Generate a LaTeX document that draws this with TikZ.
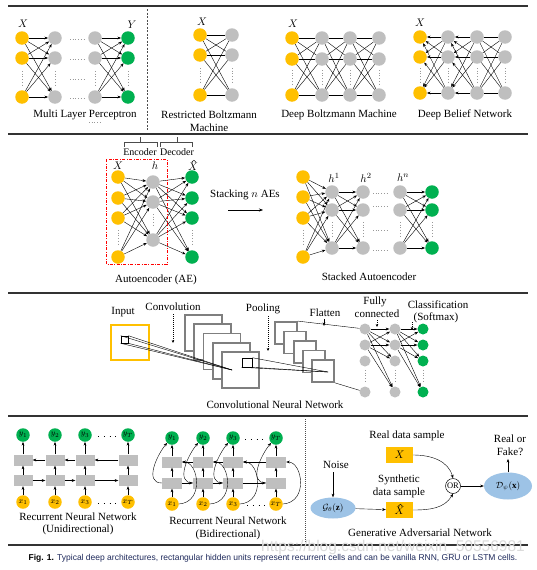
\documentclass[tikz,border=0pt]{standalone}
\usepackage{fontspec}
\setmainfont{Liberation Serif}
\newfontfamily\capfont{Liberation Sans}
\usetikzlibrary{arrows.meta,shapes.geometric}
\definecolor{yel}{HTML}{FFC000}
\definecolor{gry}{HTML}{BFBFBF}
\definecolor{grn}{HTML}{00B050}
\definecolor{blu}{HTML}{9DC3E6}
\definecolor{sqg}{HTML}{7F7F7F}
\definecolor{capblue}{HTML}{1F2A5C}
\begin{document}
\begin{tikzpicture}[x=1pt,y=-1pt,
  font=\fontsize{11}{13}\selectfont,
  nd/.style={circle,inner sep=0pt,minimum size=13.5pt},
  yn/.style={nd,fill=yel}, gn/.style={nd,fill=gry}, en/.style={nd,fill=grn},
  sn/.style={circle,inner sep=0pt,minimum size=11pt},
  arr/.style={-{Stealth[length=3.6pt,width=2.8pt]},line width=0.4pt},
  ln/.style={line width=0.4pt},
  darr/.style={-{Stealth[length=3pt,width=2.6pt]},line width=0.5pt,dash pattern=on 1pt off 1pt},
  dots/.style={gray!80,line width=0.7pt,dash pattern=on 0.7pt off 2pt},
  rule/.style={line width=1.1pt,black!80},
  lab/.style={inner sep=0.5pt},
  sm/.style={font=\fontsize{10}{12}\selectfont},
  hatmark/.style={line width=0.45pt},
  cell/.style={rectangle,fill=gry,inner sep=0pt,minimum width=19pt,minimum height=11pt},
  csq/.style={rectangle,draw=sqg,line width=1.8pt,fill=white,inner sep=0pt,minimum width=37pt,minimum height=36pt},
  psq/.style={rectangle,draw=sqg,line width=1.8pt,fill=white,inner sep=0pt,minimum width=22pt,minimum height=22pt},
  box/.style={rectangle,fill=yel,inner sep=0pt,minimum width=27pt,minimum height=16pt},
  ell/.style={ellipse,fill=blu,inner sep=0pt,font=\fontsize{9}{10}\selectfont},
  rl/.style={font=\fontsize{8.5}{9}\selectfont},
]
\useasboundingbox (0,0) rectangle (536,570);
\fill[white] (0,0) rectangle (536,570);

% ---------- rules ----------
\draw[rule] (8,6) -- (528,6);
\draw[rule] (8,134) -- (528,134);
\draw[rule] (8,293) -- (528,293);
\draw[rule] (8,416) -- (528,416);
\draw[rule] (8,545) -- (528,545);
\draw[line width=0.5pt,black!70,dash pattern=on 2pt off 1.5pt] (147,9) -- (147,130);
\draw[line width=0.5pt,black!70,dash pattern=on 1pt off 1pt] (305,419) -- (305,543);

% ---------- MLP ----------
\foreach \n/\y in {a/38,b/58,c/97}{
  \node[yn] (m0\n) at (22,\y) {};
  \node[gn] (m1\n) at (55,\y) {};
  \node[gn] (m2\n) at (95,\y) {};
  \node[en] (m3\n) at (128,\y) {};
}
\foreach \i in {a,b,c}{\foreach \j in {a,b,c}{
  \draw[arr] (m0\i) -- (m1\j); \draw[arr] (m2\i) -- (m3\j);}}
\foreach \x in {22,55,95,128}{\draw[dots] (\x,71) -- (\x,85);}
\foreach \y in {39,59,79,98}{\draw[dots] (70,\y) -- (86,\y);}
\draw[dots] (89,122) -- (101,122);
\node[lab] (mX) at (23,24) {$X$};
\node[lab] (mY) at (132,25) {$Y$};
\node (mT) at (85,115) {Multi Layer Perceptron};

% ---------- RBM ----------
\foreach \n/\y in {a/35,b/55,c/95}{
  \node[yn] (r0\n) at (200,\y) {};
  \node[gn] (r1\n) at (232,\y) {};
}
\foreach \i in {a,b,c}{\foreach \j in {a,b,c}{\draw[ln] (r0\i) -- (r1\j);}}
\foreach \x in {200,232}{\draw[dots] (\x,68) -- (\x,82);}
\node[lab] (rX) at (202,22) {$X$};
\node (rT1) at (209,115) {Restricted Boltzmann};
\node (rT2) at (209,128) {Machine};

% ---------- DBM ----------
\foreach \n/\y in {a/38,b/59,c/95}{
  \node[yn] (d0\n) at (292,\y) {};
  \node[gn] (d1\n) at (322,\y) {};
  \node[gn] (d2\n) at (350,\y) {};
  \node[gn] (d3\n) at (379,\y) {};
}
\foreach \i in {a,b,c}{\foreach \j in {a,b,c}{
  \draw[ln] (d0\i) -- (d1\j); \draw[ln] (d1\i) -- (d2\j); \draw[ln] (d2\i) -- (d3\j);}}
\foreach \x in {292,322,350,379}{\draw[dots] (\x,70) -- (\x,84);}
\node[lab] (dX) at (293,24) {$X$};
\node (dT) at (339,115) {Deep Boltzmann Machine};

% ---------- DBN ----------
\foreach \n/\y in {a/37,b/57,c/93}{
  \node[yn] (b0\n) at (420,\y) {};
  \node[gn] (b1\n) at (448,\y) {};
  \node[gn] (b2\n) at (477,\y) {};
  \node[gn] (b3\n) at (505,\y) {};
}
\foreach \i in {a,b,c}{\foreach \j in {a,b,c}{
  \draw[arr] (b1\i) -- (b0\j); \draw[arr] (b2\i) -- (b1\j); \draw[ln] (b2\i) -- (b3\j);}}
\foreach \x in {420,448,477,505}{\draw[dots] (\x,68) -- (\x,82);}
\node[lab] (bX) at (420,23) {$X$};
\node (bT) at (465,115) {Deep Belief Network};

% ---------- Autoencoder ----------
\draw[line width=0.6pt,black!70] (124,147) -- (124,142) -- (157,142) -- (157,147);
\draw[line width=0.6pt,black!70] (140,142) -- (140,137);
\draw[line width=0.6pt,black!70] (160,147) -- (160,142) -- (192,142) -- (192,147);
\draw[line width=0.6pt,black!70] (177,142) -- (177,137);
\node[sm,inner sep=0pt] (enc) at (140,152) {Encoder};
\node[sm,inner sep=0pt] (dec) at (177,152) {Decoder};
\foreach \n/\y in {a/177,b/198,c/218,d/257}{
  \node[yn] (a0\n) at (118,\y) {};
  \node[en] (a2\n) at (192,\y) {};
}
\foreach \n/\y in {a/182,b/202,c/240}{\node[gn] (a1\n) at (153,\y) {};}
\foreach \i in {a,b,c,d}{\foreach \j in {a,b,c}{
  \draw[arr] (a0\i) -- (a1\j); \draw[arr] (a1\j) -- (a2\i);}}
\foreach \x in {118,192}{\draw[dots] (\x,230) -- (\x,244);}
\draw[dots] (153,214) -- (153,226);
\node[lab] (aX) at (118,166) {$X$};
\node[lab] (ah) at (155,166) {$h$};
\node[inner sep=0pt] (aXh) at (193,167) {$X$};
\draw[hatmark] ([shift={(-1.2,-1)}]aXh.north) -- ([shift={(0.9,-2.8)}]aXh.north) -- ([shift={(3,-1)}]aXh.north);
\draw[red,line width=0.8pt,dash pattern=on 3pt off 1.5pt on 0.8pt off 1.5pt] (106,159) rectangle (167,264);
\node (aT) at (156,280) {Autoencoder (AE)};

\node (stk) at (245,195) {Stacking $n$ AEs};
\coordinate (sa1) at (228,210);
\coordinate (sa2) at (263,210);
\draw[-{Stealth[length=4pt,width=3pt]},line width=0.5pt] (sa1) -- (sa2);

% ---------- Stacked AE ----------
\foreach \n/\y in {a/177,b/197,c/218,d/257}{\node[yn] (s0\n) at (303,\y) {};}
\foreach \n/\y in {a/192,b/210,c/248}{
  \node[gn] (s1\n) at (332,\y) {};
  \node[gn] (s2\n) at (363,\y) {};
  \node[gn] (s3\n) at (400,\y) {};
  \node[en] (s4\n) at (432,\y) {};
}
\foreach \i in {a,b,c,d}{\foreach \j in {a,b,c}{\draw[arr] (s0\i) -- (s1\j);}}
\foreach \i in {a,b,c}{\foreach \j in {a,b,c}{
  \draw[arr] (s1\i) -- (s2\j); \draw[arr] (s3\i) -- (s4\j);}}
\draw[dots] (303,230) -- (303,244);
\foreach \x in {332,363,400,432}{\draw[dots] (\x,222) -- (\x,236);}
\foreach \y in {193,206,230,250}{\draw[dots] (373,\y) -- (388,\y);}
\node[lab] (sh1) at (334,178) {$h^1$};
\node[lab] (sh2) at (366,178) {$h^2$};
\node[lab] (shn) at (403,178) {$h^n$};
\node (sT) at (369,277) {Stacked Autoencoder};

% ---------- CNN ----------
\node (cIn) at (123,312) {Input};
\node[rectangle,draw=yel,line width=2pt,fill=white,inner sep=0pt,minimum width=38pt,minimum height=35pt] (insq) at (130,342.5) {};
\node[rectangle,draw=black,line width=0.6pt,inner sep=0pt,minimum size=7pt] (isq) at (124.5,339.5) {};
\foreach \i in {0,...,4}{\node[csq] (c\i) at ({203.5+9.25*\i},{333+9.25*\i}) {};}
\coordinate (ctip) at (232,370);
\foreach \a in {north west,north east,south west,south east}{\draw[line width=0.4pt] (isq.\a) -- (ctip);}
\node[rectangle,draw=black,line width=0.6pt,inner sep=0pt,minimum width=10pt,minimum height=9pt,fill=white] (csm) at (247,362.5) {};
\node (cConv) at (173,307) {Convolution};
\coordinate (cv1) at (173,314);
\coordinate (cv2) at (173,343);
\draw[darr] (cv1) -- (cv2);
\foreach \i in {0,...,4}{\node[psq] (p\i) at ({286+9.3*\i},{333+9.5*\i}) {};}
\coordinate (ptip) at (328,372);
\foreach \a in {north east,south east,south west}{\draw[line width=0.4pt] (csm.\a) -- (ptip);}
\node (cPool) at (263,309) {Pooling};
\coordinate (pv1) at (268,316);
\coordinate (pv2) at (268,351);
\draw[darr] (pv1) -- (pv2);
\foreach \n/\y in {a/329,b/345,c/361,d/392}{
  \node[sn,fill=gry] (f1\n) at (365,\y) {};
  \node[sn,fill=gry] (f2\n) at (395,\y) {};
  \node[sn,fill=grn] (f3\n) at (423,\y) {};
}
\draw[line width=0.4pt] (p0.north east) -- (f1a);
\draw[line width=0.4pt] (p4.south east) -- (f1d);
\foreach \i in {a,b}{\foreach \j in {a,b,c,d}{
  \draw[arr] (f1\i) -- (f2\j); \draw[arr] (f2\i) -- (f3\j);}}
\foreach \x in {365,395,423}{\draw[dots] (\x,370) -- (\x,383);}
\node (cFl) at (325,313) {Flatten};
\coordinate (fv1) at (324,319);
\coordinate (fv2) at (324,326);
\draw[arr] (fv1) -- (fv2);
\node (cFc1) at (375,302) {Fully};
\node (cFc2) at (377,314) {connected};
\coordinate (fc1) at (377,320);
\coordinate (fc2) at (377,327);
\draw[darr] (fc1) -- (fc2);
\node (cCl1) at (438,305) {Classification};
\node (cCl2) at (436,318) {(Softmax)};
\coordinate (cl1) at (412,322);
\coordinate (cl2) at (412,330);
\draw[darr] (cl1) -- (cl2);
\node (cT) at (275,405) {Convolutional Neural Network};

% ---------- RNN unidirectional ----------
\foreach \n/\x/\s in {1/23/1,2/55/2,3/85/3,4/128/T}{
  \node[en,rl] (uy\n) at (\x,435) {$y_\s$};
  \node[cell] (uu\n) at (\x,460) {};
  \node[cell] (ul\n) at (\x,480.5) {};
  \node[yn,rl] (ux\n) at (\x,502) {$x_\s$};
  \draw[arr] (ux\n) -- (ul\n);
  \draw[arr] (ul\n) -- (uu\n);
  \draw[arr] (uu\n) -- (uy\n);
}
\draw[arr] (ul1) -- (ul2); \draw[arr] (ul2) -- (ul3); \draw[arr] (ul3) -- (ul4);
\draw[arr] (uu2) -- (uu1); \draw[arr] (uu3) -- (uu2); \draw[arr] (uu4) -- (uu3);
\draw[line width=0.8pt,dash pattern=on 0.8pt off 5pt] (98,436) -- (116,436);
\draw[line width=0.8pt,dash pattern=on 0.8pt off 5pt] (98,503) -- (116,503);
\node (uT1) at (78,517) {Recurrent Neural Network};
\node (uT2) at (78,530) {(Unidirectional)};

% ---------- RNN bidirectional ----------
\foreach \n/\x/\s in {1/172/1,2/203/2,3/233/3,4/276/T}{
  \node[en,rl] (by\n) at (\x,438) {$y_\s$};
  \node[cell,minimum width=20pt] (bu\n) at (\x,462) {};
  \node[cell,minimum width=20pt] (bl\n) at (\x,483) {};
  \node[yn,rl] (bx\n) at (\x,504) {$x_\s$};
}
\foreach \n in {1,2,3,4}{
  \draw[arr] (bl\n.west) .. controls +(-18,0) and +(-10,12) .. (by\n.south west);
  \draw[arr] (bx\n.east) .. controls +(26,-2) and +(16,0) .. (bu\n.east);
  \draw[arr] (bx\n) -- (bl\n);
  \draw[arr] (bl\n) -- (bu\n);
  \draw[arr] (bu\n) -- (by\n);
}
\draw[arr] (bl1) -- (bl2); \draw[arr] (bl2) -- (bl3); \draw[arr] (bl3) -- (bl4);
\draw[arr] (bu2) -- (bu1); \draw[arr] (bu3) -- (bu2); \draw[arr] (bu4) -- (bu3);
\draw[line width=0.8pt,dash pattern=on 0.8pt off 5pt] (245,439) -- (263,439);
\draw[line width=0.8pt,dash pattern=on 0.8pt off 5pt] (247,505) -- (265,505);
\node (bT1) at (228,521) {Recurrent Neural Network};
\node (bT2) at (228,535) {(Bidirectional)};

% ---------- GAN ----------
\node (gReal) at (407,436) {Real data sample};
\node[box] (xr) at (399.5,455) {$X$};
\node (gNoise) at (336,465) {Noise};
\node[ell,minimum width=45pt,minimum height=21pt] (gG) at (333,508) {$\mathcal{G}_\theta(\mathbf{z})$};
\draw[arr] (gG.north |- gNoise.south) -- (gG.north);
\node[box] (xs) at (399.5,510) {};
\node[inner sep=0pt] (xsl) at (399.5,511) {$X$};
\draw[hatmark] ([shift={(-1.2,-1)}]xsl.north) -- ([shift={(0.9,-2.8)}]xsl.north) -- ([shift={(3,-1)}]xsl.north);
\draw[arr] (gG) -- (xs);
\node[align=center,inner sep=0pt] (gSyn) at (399,486) {Synthetic\\data sample};
\node[circle,draw,line width=0.5pt,inner sep=0pt,minimum size=15pt,font=\fontsize{8.5}{9}\selectfont] (gOr) at (453,486) {OR};
\draw[arr] (xr.east) to[out=0,in=105] (gOr.north);
\draw[arr] (xs.east) to[out=0,in=240] (gOr.south);
\node[ell,minimum width=48pt,minimum height=27pt] (gD) at (508,486) {$\mathcal{D}_\psi(\mathbf{x})$};
\draw[arr] (gOr) -- (gD);
\node[align=center] (gRF) at (510,445) {Real or\\Fake?};
\draw[arr] (gD.north) -- (gD.north |- gRF.south);
\node[inner sep=0pt] (gT) at (420,533) {Generative Adversarial Network};

% ---------- watermark & caption ----------
\node[text=gray!28,font=\capfont\fontsize{15.5}{16}\selectfont,inner sep=0pt] (wm) at (393,547.5) {https://blog.csdn.net/weixin\_50556981};
\node[text=capblue,font=\capfont\fontsize{8.5}{9}\selectfont,inner sep=0pt] (cap) at (273,558) {{\color{black}\textbf{Fig. 1.}} Typical deep architectures, rectangular hidden units represent recurrent cells and can be vanilla RNN, GRU or LSTM cells.};
\end{tikzpicture}
\end{document}
